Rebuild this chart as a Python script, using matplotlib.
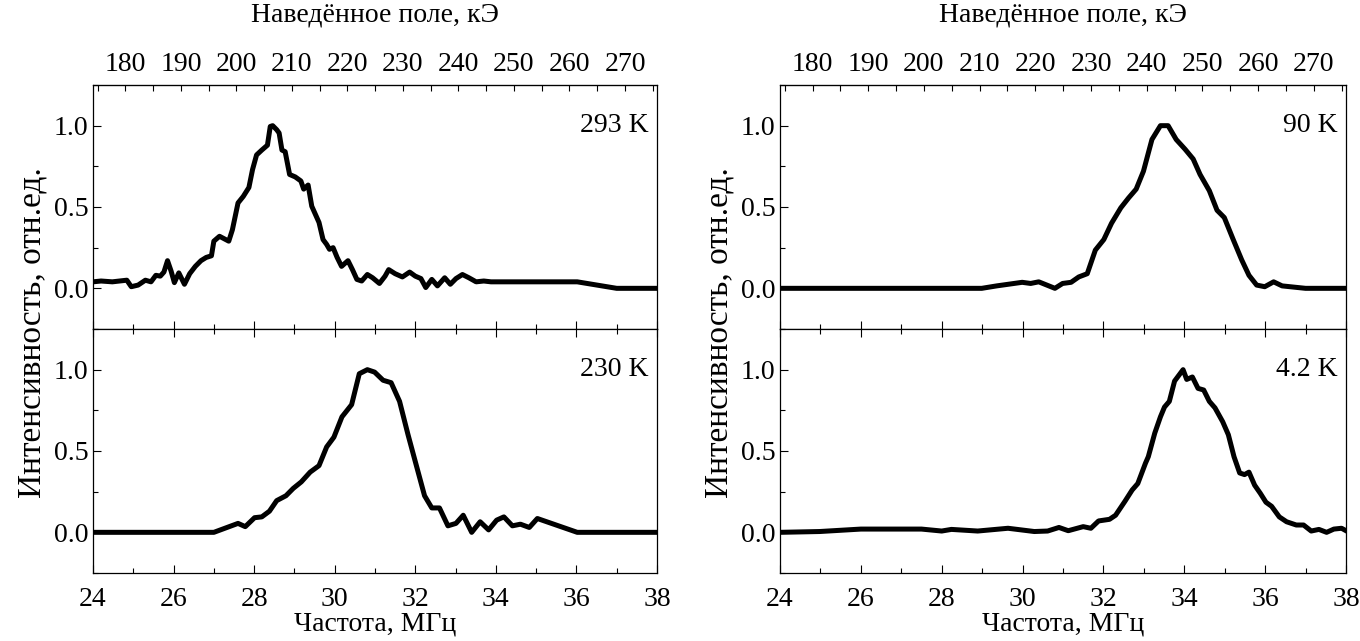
import matplotlib
matplotlib.use("Agg")
import matplotlib.pyplot as plt
from matplotlib.ticker import MultipleLocator, FixedLocator

plt.rcParams["font.family"] = ["Liberation Serif", "DejaVu Serif"]
plt.rcParams["font.size"] = 20

GAMMA = 0.1378  # МГц/кЭ, 57Fe
field_ticks = [180, 190, 200, 210, 220, 230, 240, 250, 260, 270]
field_minor = [175, 185, 195, 205, 215, 225, 235, 245, 255, 265, 275]

# 293 K
f_293 = [24.0, 24.2, 24.48, 24.84, 24.95, 25.12, 25.30, 25.44, 25.56, 25.67, 25.76, 25.85,
         25.94, 26.02, 26.13, 26.27, 26.40, 26.54, 26.68, 26.81, 26.94, 27.0, 27.14, 27.37,
         27.46, 27.60, 27.73, 27.87, 27.96, 28.06, 28.19, 28.33, 28.40, 28.46, 28.56, 28.62,
         28.69, 28.77, 28.88, 29.02, 29.16, 29.23, 29.34, 29.43, 29.52, 29.61, 29.71, 29.80,
         29.87, 29.96, 30.06, 30.17, 30.26, 30.33, 30.44, 30.55, 30.67, 30.81, 30.94, 31.11,
         31.25, 31.34, 31.50, 31.68, 31.86, 32.0, 32.14, 32.26, 32.41, 32.55, 32.73, 32.87,
         33.01, 33.17, 33.33, 33.51, 33.70, 33.88, 34.02, 36.02, 37.0, 38.0]
i_293 = [0.04, 0.045, 0.04, 0.05, 0.01, 0.02, 0.05, 0.04, 0.08, 0.075, 0.10, 0.17,
         0.105, 0.035, 0.095, 0.025, 0.09, 0.135, 0.17, 0.19, 0.20, 0.29, 0.32, 0.29,
         0.36, 0.525, 0.565, 0.62, 0.73, 0.82, 0.85, 0.88, 0.995, 1.0, 0.975, 0.955,
         0.85, 0.84, 0.70, 0.685, 0.66, 0.61, 0.635, 0.505, 0.455, 0.405, 0.30, 0.27,
         0.24, 0.25, 0.19, 0.135, 0.155, 0.17, 0.115, 0.055, 0.045, 0.085, 0.065, 0.03,
         0.075, 0.115, 0.09, 0.07, 0.10, 0.075, 0.06, 0.005, 0.055, 0.015, 0.065, 0.025,
         0.06, 0.085, 0.065, 0.04, 0.045, 0.04, 0.04, 0.04, 0.0, 0.0]

# 230 K
f_230 = [24.0, 27.0, 27.60, 27.78, 28.01, 28.19, 28.38, 28.56, 28.79, 28.97, 29.17, 29.39,
         29.61, 29.80, 29.98, 30.18, 30.42, 30.61, 30.81, 30.99, 31.20, 31.40, 31.61, 31.82,
         32.0, 32.23, 32.41, 32.60, 32.81, 33.01, 33.19, 33.40, 33.61, 33.82, 34.02, 34.20,
         34.41, 34.61, 34.83, 35.03, 36.02, 38.0]
i_230 = [0.0, 0.0, 0.055, 0.035, 0.09, 0.095, 0.13, 0.195, 0.225, 0.27, 0.31, 0.37,
         0.41, 0.525, 0.585, 0.71, 0.785, 0.975, 1.0, 0.985, 0.935, 0.92, 0.805, 0.60,
         0.435, 0.225, 0.15, 0.15, 0.04, 0.055, 0.105, 0.0, 0.065, 0.015, 0.075, 0.095,
         0.04, 0.05, 0.03, 0.085, 0.0, 0.0]

# 90 K
f_90 = [24.0, 28.99, 29.36, 29.99, 30.20, 30.40, 30.80, 30.99, 31.20, 31.39, 31.60, 31.80,
        32.01, 32.20, 32.43, 32.62, 32.81, 32.99, 33.20, 33.41, 33.60, 33.80, 34.02, 34.22,
        34.39, 34.62, 34.81, 34.99, 35.21, 35.42, 35.60, 35.79, 35.99, 36.21, 36.42, 37.0, 38.0]
i_90 = [0.0, 0.0, 0.015, 0.037, 0.03, 0.04, 0.0, 0.03, 0.037, 0.07, 0.09, 0.235,
        0.30, 0.40, 0.495, 0.555, 0.61, 0.72, 0.915, 1.0, 1.0, 0.915, 0.855, 0.795,
        0.70, 0.60, 0.48, 0.435, 0.30, 0.175, 0.08, 0.02, 0.01, 0.04, 0.015, 0.0, 0.0]

# 4.2 K
f_4 = [24.0, 24.98, 26.0, 27.5, 28.0, 28.24, 28.89, 29.64, 30.29, 30.62, 30.90, 31.13,
       31.50, 31.69, 31.88, 32.15, 32.30, 32.53, 32.71, 32.85, 33.04, 33.11, 33.27, 33.41,
       33.51, 33.63, 33.76, 33.88, 33.97, 34.06, 34.20, 34.34, 34.48, 34.62, 34.76, 34.95,
       35.09, 35.23, 35.37, 35.49, 35.60, 35.74, 35.88, 36.02, 36.16, 36.35, 36.53, 36.77,
       36.95, 37.14, 37.33, 37.52, 37.70, 37.89, 38.0]
i_4 = [0.0, 0.005, 0.02, 0.02, 0.008, 0.018, 0.008, 0.025, 0.005, 0.008, 0.03, 0.01,
       0.035, 0.025, 0.07, 0.08, 0.105, 0.19, 0.26, 0.30, 0.425, 0.465, 0.61, 0.71,
       0.77, 0.805, 0.93, 0.97, 1.0, 0.94, 0.955, 0.885, 0.875, 0.805, 0.765, 0.68,
       0.60, 0.465, 0.365, 0.355, 0.37, 0.29, 0.24, 0.185, 0.16, 0.095, 0.065, 0.045,
       0.045, 0.008, 0.018, 0.0, 0.02, 0.025, 0.01]

panels = [
    (f_293, i_293, "293 K"),
    (f_230, i_230, "230 K"),
    (f_90, i_90, "90 K"),
    (f_4, i_4, "4.2 K"),
]

W, H = 1360, 641
fig = plt.figure(figsize=(W / 100, H / 100), dpi=100)

columns = [(93, 657), (780, 1346)]
rows = [(85, 329), (329, 573)]


def style_axis(ax):
    ax.set_xlim(24, 38)
    ax.set_ylim(-0.25, 1.25)
    ax.xaxis.set_major_locator(MultipleLocator(2))
    ax.xaxis.set_minor_locator(MultipleLocator(1))
    ax.yaxis.set_major_locator(MultipleLocator(0.5))
    ax.yaxis.set_minor_locator(MultipleLocator(0.25))
    ax.tick_params(which="both", direction="in", right=False, width=0.8)
    ax.tick_params(which="major", length=6)
    ax.tick_params(which="minor", length=3.5)
    ax.tick_params(axis="x", pad=10)
    for sp in ax.spines.values():
        sp.set_linewidth(0.9)


for col, (x0, x1) in enumerate(columns):
    for row, (y0, y1) in enumerate(rows):
        f, inten, label = panels[col * 2 + row]
        ax = fig.add_axes([x0 / W, 1 - y1 / H, (x1 - x0) / W, (y1 - y0) / H])
        style_axis(ax)
        ax.plot(f, inten, color="black", lw=3.6, solid_joinstyle="round")
        ax.text(0.985, 1.0, label, transform=ax.get_yaxis_transform(),
                ha="right", va="center")
        ax.xaxis.set_ticks_position("both")
        if row == 0:
            ax.tick_params(which="both", top=False, labelbottom=False)
            sec = ax.secondary_xaxis("top", functions=(lambda x: x / GAMMA,
                                                       lambda h: h * GAMMA))
            sec.xaxis.set_major_locator(FixedLocator(field_ticks))
            sec.xaxis.set_minor_locator(FixedLocator(field_minor))
            sec.tick_params(which="both", direction="in", width=0.8, pad=6)
            sec.tick_params(which="major", length=4)
            sec.tick_params(which="minor", length=4)
            sec.set_xlabel("Наведённое поле, кЭ", labelpad=22)
        else:
            ax.set_xlabel("Частота, МГц", labelpad=0)
    fig.text((x0 - 61) / W, 1 - 333 / H, "Интенсивность, отн.ед.",
             rotation=90, ha="center", va="center", fontsize=24)

fig.savefig("out.png", dpi=100)
